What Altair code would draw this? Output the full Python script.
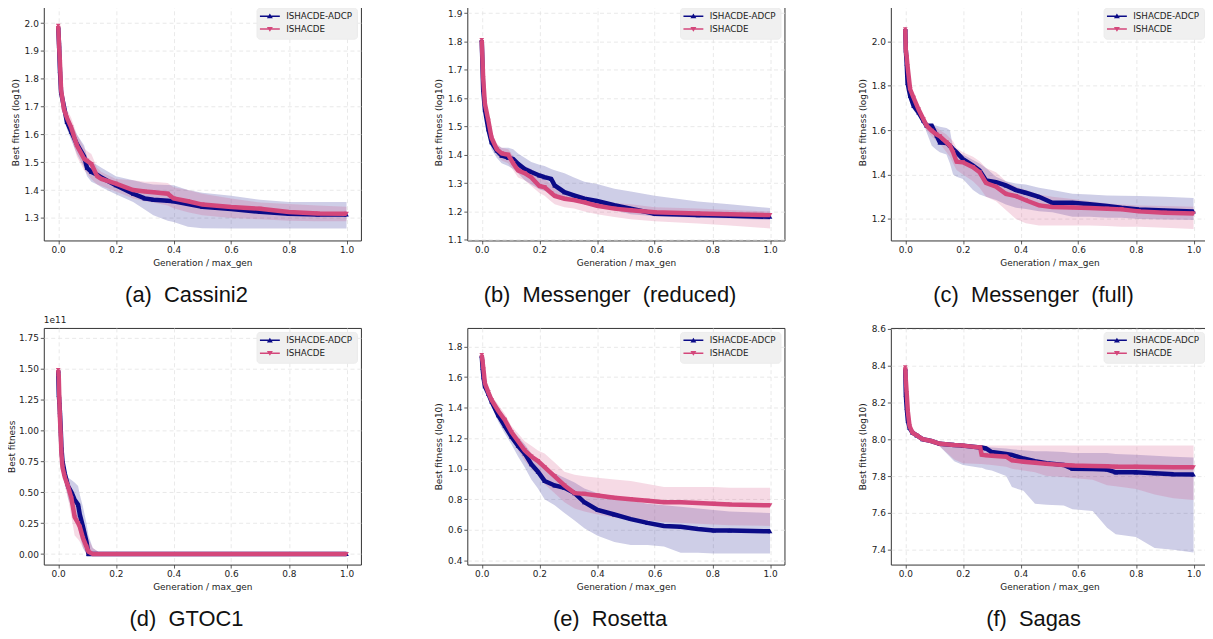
import altair as alt
import pandas as pd

SERIES = ["ISHACDE-ADCP", "ISHACDE"]
NAVY = "#0b0b87"
PINK = "#d4477b"
X_TICKS = [0.0, 0.2, 0.4, 0.6, 0.8, 1.0]

# (a) Cassini2
A_X = [0, 0.003, 0.006, 0.01, 0.02, 0.03, 0.045, 0.065, 0.09, 0.1, 0.115, 0.135, 0.15, 0.2, 0.26, 0.3, 0.33, 0.38, 0.4, 0.45, 0.5, 0.6, 0.7, 0.8, 0.9, 1.0]
A_ADCP = [1.985, 1.92, 1.83, 1.75, 1.70, 1.645, 1.61, 1.565, 1.52, 1.48, 1.465, 1.455, 1.445, 1.417, 1.387, 1.37, 1.365, 1.362, 1.36, 1.35, 1.34, 1.332, 1.322, 1.315, 1.312, 1.312]
A_ADCP_LO = [1.985, 1.92, 1.83, 1.74, 1.68, 1.62, 1.58, 1.53, 1.48, 1.45, 1.43, 1.42, 1.41, 1.385, 1.357, 1.33, 1.31, 1.29, 1.285, 1.268, 1.263, 1.262, 1.262, 1.262, 1.262, 1.262]
A_ADCP_HI = [1.985, 1.92, 1.83, 1.76, 1.72, 1.67, 1.64, 1.60, 1.56, 1.52, 1.50, 1.49, 1.48, 1.45, 1.435, 1.425, 1.42, 1.418, 1.417, 1.40, 1.39, 1.38, 1.365, 1.357, 1.357, 1.357]
A_BASE = [1.99, 1.92, 1.86, 1.76, 1.69, 1.66, 1.625, 1.56, 1.512, 1.505, 1.494, 1.45, 1.44, 1.423, 1.40, 1.395, 1.392, 1.387, 1.37, 1.36, 1.348, 1.339, 1.333, 1.321, 1.316, 1.315]
A_BASE_LO = [1.99, 1.92, 1.86, 1.75, 1.67, 1.63, 1.59, 1.52, 1.47, 1.46, 1.44, 1.42, 1.415, 1.395, 1.37, 1.36, 1.355, 1.345, 1.335, 1.32, 1.31, 1.30, 1.295, 1.29, 1.288, 1.288]
A_BASE_HI = [1.99, 1.92, 1.86, 1.77, 1.71, 1.69, 1.66, 1.60, 1.55, 1.54, 1.53, 1.48, 1.465, 1.44, 1.435, 1.43, 1.43, 1.425, 1.41, 1.40, 1.387, 1.37, 1.355, 1.35, 1.345, 1.34]

# (b) Messenger (reduced)
B_X = [0, 0.005, 0.011, 0.023, 0.034, 0.052, 0.069, 0.092, 0.109, 0.126, 0.149, 0.172, 0.2, 0.218, 0.241, 0.253, 0.287, 0.32, 0.356, 0.4, 0.46, 0.517, 0.6, 0.75, 0.86, 1.0]
B_ADCP = [1.805, 1.63, 1.56, 1.49, 1.444, 1.415, 1.397, 1.39, 1.385, 1.368, 1.35, 1.339, 1.327, 1.321, 1.315, 1.292, 1.268, 1.257, 1.245, 1.237, 1.222, 1.21, 1.192, 1.187, 1.185, 1.181]
B_ADCP_LO = [1.805, 1.62, 1.54, 1.47, 1.42, 1.39, 1.37, 1.36, 1.35, 1.335, 1.31, 1.295, 1.278, 1.272, 1.268, 1.26, 1.245, 1.235, 1.225, 1.216, 1.205, 1.19, 1.183, 1.178, 1.175, 1.17]
B_ADCP_HI = [1.805, 1.65, 1.58, 1.51, 1.46, 1.435, 1.425, 1.425, 1.42, 1.405, 1.39, 1.375, 1.365, 1.36, 1.35, 1.345, 1.335, 1.32, 1.305, 1.297, 1.28, 1.27, 1.255, 1.235, 1.225, 1.212]
B_BASE = [1.805, 1.67, 1.58, 1.52, 1.46, 1.42, 1.405, 1.40, 1.37, 1.345, 1.335, 1.32, 1.29, 1.285, 1.265, 1.255, 1.245, 1.24, 1.232, 1.22, 1.21, 1.204, 1.197, 1.193, 1.19, 1.187]
B_BASE_LO = [1.805, 1.66, 1.56, 1.50, 1.44, 1.40, 1.38, 1.37, 1.345, 1.32, 1.31, 1.29, 1.265, 1.255, 1.235, 1.225, 1.215, 1.21, 1.20, 1.19, 1.18, 1.172, 1.165, 1.157, 1.15, 1.14]
B_BASE_HI = [1.805, 1.68, 1.60, 1.54, 1.48, 1.44, 1.425, 1.42, 1.395, 1.375, 1.36, 1.35, 1.325, 1.315, 1.295, 1.285, 1.27, 1.262, 1.255, 1.24, 1.23, 1.225, 1.215, 1.21, 1.205, 1.20]

# (c) Messenger (full)
C_X = [0, 0.002, 0.005, 0.008, 0.017, 0.029, 0.046, 0.063, 0.074, 0.092, 0.109, 0.12, 0.143, 0.155, 0.166, 0.178, 0.2, 0.235, 0.258, 0.28, 0.315, 0.349, 0.384, 0.418, 0.464, 0.51, 0.58, 0.64, 0.7, 0.75, 0.81, 0.9, 1.0]
C_ADCP = [2.055, 1.96, 1.90, 1.813, 1.754, 1.709, 1.68, 1.642, 1.62, 1.62, 1.575, 1.545, 1.542, 1.53, 1.515, 1.50, 1.47, 1.44, 1.418, 1.373, 1.366, 1.351, 1.33, 1.318, 1.30, 1.273, 1.273, 1.266, 1.258, 1.25, 1.243, 1.238, 1.234]
C_ADCP_LO = [2.055, 1.96, 1.90, 1.80, 1.74, 1.69, 1.66, 1.63, 1.59, 1.53, 1.51, 1.50, 1.49, 1.45, 1.40, 1.39, 1.38, 1.33, 1.31, 1.30, 1.285, 1.265, 1.25, 1.245, 1.235, 1.23, 1.21, 1.21, 1.205, 1.205, 1.2, 1.198, 1.195]
C_ADCP_HI = [2.055, 1.96, 1.90, 1.83, 1.77, 1.73, 1.70, 1.657, 1.625, 1.625, 1.62, 1.615, 1.61, 1.60, 1.52, 1.50, 1.49, 1.465, 1.45, 1.43, 1.39, 1.37, 1.36, 1.355, 1.34, 1.33, 1.313, 1.31, 1.306, 1.305, 1.303, 1.30, 1.294]
C_BASE = [2.055, 1.96, 1.93, 1.888, 1.784, 1.746, 1.694, 1.649, 1.62, 1.597, 1.58, 1.572, 1.545, 1.53, 1.5, 1.458, 1.455, 1.433, 1.41, 1.362, 1.345, 1.313, 1.303, 1.284, 1.261, 1.254, 1.252, 1.249, 1.246, 1.243, 1.234, 1.228, 1.224]
C_BASE_LO = [2.055, 1.96, 1.93, 1.87, 1.77, 1.73, 1.68, 1.63, 1.60, 1.57, 1.55, 1.54, 1.50, 1.48, 1.45, 1.42, 1.40, 1.37, 1.34, 1.30, 1.28, 1.24, 1.20, 1.18, 1.17, 1.17, 1.17, 1.17, 1.168, 1.165, 1.165, 1.16, 1.155]
C_BASE_HI = [2.055, 1.96, 1.93, 1.90, 1.80, 1.76, 1.71, 1.665, 1.64, 1.62, 1.61, 1.60, 1.58, 1.565, 1.55, 1.52, 1.50, 1.48, 1.46, 1.43, 1.41, 1.37, 1.345, 1.33, 1.31, 1.30, 1.29, 1.28, 1.27, 1.265, 1.26, 1.258, 1.255]

# (d) GTOC1 (units of 1e11)
D_X = [0, 0.002, 0.004, 0.006, 0.009, 0.011, 0.015, 0.023, 0.034, 0.046, 0.057, 0.069, 0.075, 0.086, 0.098, 0.105, 0.12, 0.15, 0.3, 0.5, 0.7, 1.0]
D_ADCP = [1.485, 1.29, 1.23, 1.15, 1.0, 0.87, 0.75, 0.65, 0.55, 0.50, 0.44, 0.40, 0.32, 0.22, 0.10, 0.0, 0, 0, 0, 0, 0, 0]
D_ADCP_LO = [1.485, 1.29, 1.23, 1.12, 0.95, 0.82, 0.70, 0.60, 0.45, 0.38, 0.30, 0.22, 0.15, 0.05, 0.0, 0, 0, 0, 0, 0, 0, 0]
D_ADCP_HI = [1.485, 1.29, 1.23, 1.18, 1.05, 0.92, 0.80, 0.70, 0.62, 0.60, 0.58, 0.55, 0.48, 0.38, 0.25, 0.15, 0.05, 0, 0, 0, 0, 0]
D_BASE = [1.49, 1.43, 1.25, 1.10, 0.95, 0.82, 0.70, 0.62, 0.55, 0.45, 0.30, 0.25, 0.22, 0.13, 0.06, 0.02, 0.0, 0, 0, 0, 0, 0]
D_BASE_LO = [1.49, 1.43, 1.25, 1.05, 0.90, 0.77, 0.66, 0.55, 0.45, 0.30, 0.15, 0.12, 0.10, 0.05, 0.0, 0, 0, 0, 0, 0, 0, 0]
D_BASE_HI = [1.49, 1.43, 1.25, 1.15, 1.0, 0.88, 0.74, 0.66, 0.60, 0.52, 0.42, 0.35, 0.32, 0.22, 0.18, 0.12, 0.05, 0, 0, 0, 0, 0]

# (e) Rosetta
E_X = [0, 0.003, 0.006, 0.011, 0.023, 0.034, 0.057, 0.08, 0.103, 0.126, 0.149, 0.172, 0.195, 0.218, 0.253, 0.287, 0.322, 0.356, 0.402, 0.46, 0.517, 0.575, 0.632, 0.69, 0.75, 0.805, 0.86, 1.0]
E_ADCP = [1.74, 1.66, 1.60, 1.54, 1.49, 1.44, 1.35, 1.28, 1.21, 1.15, 1.10, 1.03, 0.98, 0.92, 0.89, 0.875, 0.84, 0.78, 0.73, 0.70, 0.67, 0.645, 0.625, 0.62, 0.605, 0.595, 0.595, 0.59]
E_ADCP_LO = [1.74, 1.65, 1.58, 1.52, 1.46, 1.41, 1.31, 1.23, 1.16, 1.08, 1.01, 0.93, 0.87, 0.80, 0.76, 0.71, 0.66, 0.61, 0.56, 0.52, 0.50, 0.50, 0.49, 0.45, 0.45, 0.445, 0.445, 0.445]
E_ADCP_HI = [1.74, 1.67, 1.62, 1.56, 1.52, 1.47, 1.39, 1.33, 1.26, 1.21, 1.16, 1.10, 1.06, 1.01, 0.97, 0.94, 0.91, 0.87, 0.84, 0.82, 0.79, 0.77, 0.76, 0.75, 0.74, 0.73, 0.72, 0.71]
E_BASE = [1.745, 1.70, 1.65, 1.56, 1.50, 1.45, 1.38, 1.32, 1.24, 1.18, 1.12, 1.08, 1.05, 1.01, 0.95, 0.89, 0.84, 0.835, 0.825, 0.81, 0.80, 0.79, 0.78, 0.78, 0.775, 0.77, 0.765, 0.76]
E_BASE_LO = [1.745, 1.69, 1.63, 1.53, 1.47, 1.42, 1.34, 1.28, 1.19, 1.12, 1.05, 1.00, 0.96, 0.90, 0.84, 0.78, 0.74, 0.72, 0.70, 0.68, 0.67, 0.66, 0.65, 0.645, 0.64, 0.635, 0.63, 0.625]
E_BASE_HI = [1.745, 1.71, 1.67, 1.59, 1.53, 1.48, 1.42, 1.36, 1.28, 1.23, 1.18, 1.15, 1.12, 1.10, 1.04, 0.98, 0.96, 0.95, 0.94, 0.93, 0.92, 0.90, 0.88, 0.88, 0.88, 0.88, 0.875, 0.875]

# (f) Sagas
F_X = [0, 0.002, 0.005, 0.009, 0.015, 0.025, 0.04, 0.06, 0.09, 0.12, 0.17, 0.2, 0.26, 0.265, 0.28, 0.3, 0.35, 0.37, 0.41, 0.45, 0.49, 0.55, 0.58, 0.65, 0.7, 0.73, 0.8, 0.865, 0.93, 1.0]
F_ADCP = [8.38, 8.24, 8.17, 8.10, 8.06, 8.035, 8.02, 8.0, 7.99, 7.975, 7.968, 7.965, 7.955, 7.955, 7.95, 7.93, 7.92, 7.915, 7.895, 7.88, 7.87, 7.86, 7.84, 7.838, 7.835, 7.82, 7.82, 7.815, 7.81, 7.808]
F_ADCP_LO = [8.38, 8.24, 8.17, 8.09, 8.05, 8.025, 8.01, 7.99, 7.98, 7.96, 7.88, 7.86, 7.845, 7.845, 7.835, 7.83, 7.80, 7.74, 7.72, 7.65, 7.645, 7.64, 7.62, 7.61, 7.52, 7.485, 7.47, 7.41, 7.40, 7.385]
F_ADCP_HI = [8.38, 8.24, 8.17, 8.11, 8.07, 8.045, 8.03, 8.01, 8.0, 7.985, 7.975, 7.97, 7.965, 7.965, 7.96, 7.955, 7.95, 7.945, 7.94, 7.935, 7.935, 7.93, 7.925, 7.925, 7.925, 7.92, 7.915, 7.91, 7.905, 7.90]
F_BASE = [8.39, 8.32, 8.25, 8.15, 8.07, 8.035, 8.02, 8.0, 7.99, 7.975, 7.968, 7.965, 7.955, 7.915, 7.912, 7.91, 7.905, 7.885, 7.878, 7.872, 7.866, 7.86, 7.857, 7.855, 7.853, 7.85, 7.85, 7.849, 7.848, 7.848]
F_BASE_LO = [8.39, 8.32, 8.25, 8.14, 8.06, 8.025, 8.01, 7.99, 7.98, 7.96, 7.89, 7.87, 7.865, 7.865, 7.862, 7.86, 7.85, 7.84, 7.83, 7.82, 7.80, 7.795, 7.79, 7.78, 7.75, 7.745, 7.73, 7.70, 7.68, 7.67]
F_BASE_HI = [8.39, 8.32, 8.25, 8.16, 8.08, 8.045, 8.03, 8.01, 8.0, 7.985, 7.975, 7.97] + [7.965] * 18

# legend glyphs: short line with a triangle marker (filled paths, same winding)
PATH_UP = "M-1.25,-0.19H3.75V0.19H-1.25Z M2.0,0.55L0.5,0.55L1.25,-0.65Z"
PATH_DOWN = "M-1.25,-0.19H3.75V0.19H-1.25Z M0.5,-0.55L2.0,-0.55L1.25,0.65Z"

LEGEND = alt.Legend(
    title=None, orient="top-right", offset=4, padding=4,
    fillColor="#f0f0f0", strokeColor="#ececec", cornerRadius=3,
    labelFont="DejaVu Sans", labelFontSize=8.8, labelColor="#222", labelOffset=17,
    symbolSize=64, symbolOpacity=1, symbolStrokeWidth=0, rowPadding=3,
)


def frame(x, m, lo, hi, name):
    return pd.DataFrame({"x": x, "mean": m, "lo": lo, "hi": hi, "series": name})


def panel(x, adcp, base, ydom, yticks, yfmt, ytitle, caption, note=None, tpad=4):
    d1 = frame(x, *adcp, SERIES[0])
    d2 = frame(x, *base, SERIES[1])
    xs = alt.Scale(domain=[-0.05, 1.05], nice=False, zero=False)
    ys = alt.Scale(domain=ydom, nice=False, zero=False)
    xax = alt.Axis(values=X_TICKS, format=".1f", title="Generation / max_gen")
    yax = alt.Axis(values=yticks, format=yfmt, title=ytitle, titlePadding=tpad)
    X = alt.X("x:Q", scale=xs, axis=xax)
    Ym = alt.Y("mean:Q", scale=ys, axis=yax)

    def band(d, c):
        return alt.Chart(d).mark_area(color=c, opacity=0.2, clip=True).encode(
            x=X, y=alt.Y("lo:Q", scale=ys, axis=yax), y2="hi:Q")

    def line(d, c):
        return alt.Chart(d).mark_line(strokeWidth=4.5, color=c, clip=True).encode(x=X, y=Ym)

    def pts(d, c, s):
        return alt.Chart(d).mark_point(filled=True, shape=s, size=22, color=c, opacity=1, clip=True).encode(x=X, y=Ym)

    # invisible carrier of the legend (color + shape merged into one legend)
    legend_layer = alt.Chart(pd.concat([d1, d2])).mark_point(filled=True, opacity=0, clip=True).encode(
        x=X, y=Ym,
        color=alt.Color("series:N", scale=alt.Scale(domain=SERIES, range=[NAVY, PINK]), legend=LEGEND),
        shape=alt.Shape("series:N", scale=alt.Scale(domain=SERIES, range=[PATH_UP, PATH_DOWN]), legend=LEGEND),
    )

    layers = [band(d1, NAVY), band(d2, PINK), line(d1, NAVY), pts(d1, NAVY, "triangle-up"),
              line(d2, PINK), pts(d2, PINK, "triangle-down"), legend_layer]
    if note:
        layers.append(alt.Chart(pd.DataFrame({"t": [note]})).mark_text(
            align="left", baseline="bottom", fontSize=9, font="DejaVu Sans", color="#222"
        ).encode(x=alt.value(0), y=alt.value(-3), text="t:N"))
    return alt.layer(*layers).properties(
        width=319, height=238,
        title=alt.TitleParams(text=caption, orient="bottom", anchor="middle", dx=-16, offset=17,
                              fontSize=22, font="Liberation Sans",
                              fontWeight="normal", color="#111"))


LOG_T = "Best fitness (log10)"
pa = panel(A_X, (A_ADCP, A_ADCP_LO, A_ADCP_HI), (A_BASE, A_BASE_LO, A_BASE_HI), [1.219, 2.069],
           [1.3, 1.4, 1.5, 1.6, 1.7, 1.8, 1.9, 2.0], ".1f", LOG_T, "(a)\u00a0 Cassini2")
pb = panel(B_X, (B_ADCP, B_ADCP_LO, B_ADCP_HI), (B_BASE, B_BASE_LO, B_BASE_HI), [1.0975, 1.933],
           [1.1, 1.2, 1.3, 1.4, 1.5, 1.6, 1.7, 1.8, 1.9], ".1f", LOG_T, "(b)\u00a0 Messenger\u00a0 (reduced)")
pc = panel(C_X, (C_ADCP, C_ADCP_LO, C_ADCP_HI), (C_BASE, C_BASE_LO, C_BASE_HI), [1.103, 2.169],
           [1.2, 1.4, 1.6, 1.8, 2.0], ".1f", LOG_T, "(c)\u00a0 Messenger\u00a0 (full)")
pd_ = panel(D_X, (D_ADCP, D_ADCP_LO, D_ADCP_HI), (D_BASE, D_BASE_LO, D_BASE_HI), [-0.085, 1.83],
            [0, 0.25, 0.5, 0.75, 1.0, 1.25, 1.5, 1.75], ".2f", "Best fitness", "(d)\u00a0 GTOC1",
            note="1e11", tpad=2)
pe = panel(E_X, (E_ADCP, E_ADCP_LO, E_ADCP_HI), (E_BASE, E_BASE_LO, E_BASE_HI), [0.372, 1.922],
           [0.4, 0.6, 0.8, 1.0, 1.2, 1.4, 1.6, 1.8], ".1f", LOG_T, "(e)\u00a0 Rosetta")
pf = panel(F_X, (F_ADCP, F_ADCP_LO, F_ADCP_HI), (F_BASE, F_BASE_LO, F_BASE_HI), [7.32, 8.603],
           [7.4, 7.6, 7.8, 8.0, 8.2, 8.4, 8.6], ".1f", LOG_T, "(f)\u00a0 Sagas")

chart = alt.concat(
    pa, pb, pc, pd_, pe, pf, columns=3, spacing={"row": 88, "column": 107}, bounds="flush"
).resolve_scale(color="independent", shape="independent").resolve_legend(
    color="independent", shape="independent"
).properties(
    padding={"left": -2, "top": -7, "right": -4, "bottom": 0}
).configure_view(stroke="#333", strokeWidth=1).configure_axis(
    domain=False, grid=True, gridColor="#e3e3e3", gridDash=[4, 3], gridWidth=0.8,
    tickColor="#333", tickSize=3.5, tickWidth=0.8,
    labelFont="DejaVu Sans", labelFontSize=9, labelColor="#222", labelPadding=2,
    titleFont="DejaVu Sans", titleFontSize=9, titleFontWeight="normal", titleColor="#222",
)

chart.save("out.html", embed_options={"renderer": "svg", "actions": False})
